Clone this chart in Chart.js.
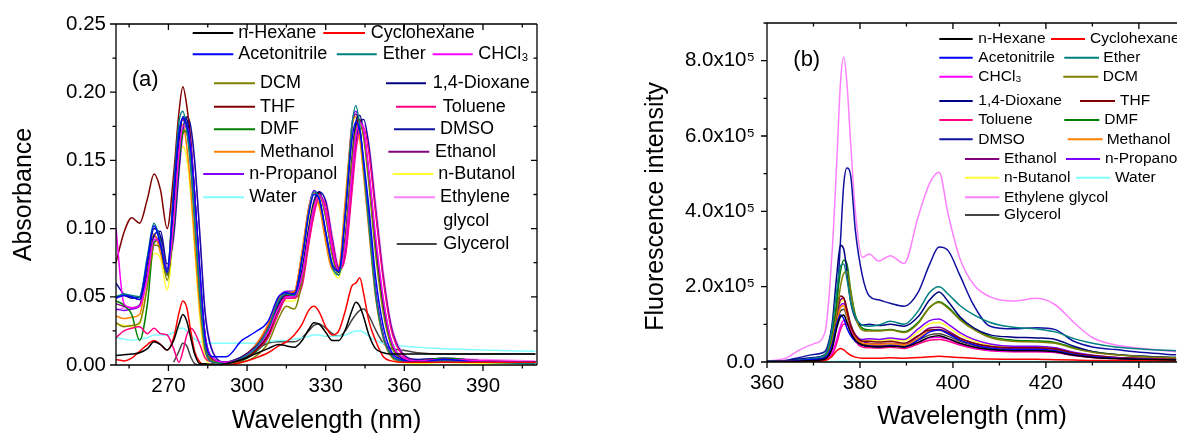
<!DOCTYPE html>
<html>
<head>
<meta charset="utf-8">
<script src="https://cdn.jsdelivr.net/npm/chart.js@4.4.1/dist/chart.umd.min.js"></script>
<style>
  body { margin: 0; background: #fff; }
  #wrap { position: relative; width: 1177px; height: 434px; overflow: hidden; }
  canvas { position: absolute; top: 0; }
  #absChart { left: 0; }
  #fluChart { left: 560px; }
</style>
</head>
<body>
<div id="wrap">
  <canvas id="absChart" width="560" height="434"></canvas>
  <canvas id="fluChart" width="617" height="434"></canvas>
</div>
<script>
const solvents = ['n-Hexane', 'Cyclohexane', 'Acetonitrile', 'Ether', 'CHCl\u2083', 'DCM', '1,4-Dioxane', 'THF',
  'Toluene', 'DMF', 'DMSO', 'Methanol', 'Ethanol', 'n-Propanol', 'n-Butanol', 'Water', 'Ethylene glycol', 'Glycerol'];
const lineColors = ['#000000', '#ff0000', '#0000ff', '#008080', '#ff00ff', '#808000', '#000080', '#800000',
  '#ff0080', '#008000', '#1010a0', '#ff8000', '#800080', '#8000ff', '#ffff33', '#80ffff', '#ff80ff', '#444444'];

// (a) absorbance, wavelength in nm
const wlAbs = [250, 253, 256, 259, 262, 264.5, 267, 269.5, 272, 274, 275.5, 277, 278.5, 280, 282,
  284, 287, 292, 298, 303, 308, 312, 315, 318, 321, 323.5, 325.5, 327.5, 330, 332.5,
  335, 337.5, 340, 341.5, 343, 344.5, 346.5, 349, 352, 355, 359, 365, 375, 390, 410];
const absXTicks = [270, 300, 330, 360, 390];
const absYTicks = [0, 0.05, 0.10, 0.15, 0.20, 0.25];
const absYTickLabels = ['0.00', '0.05', '0.10', '0.15', '0.20', '0.25'];

const absNHexane = [0.007, 0.0075, 0.008, 0.009, 0.012, 0.017, 0.015, 0.011, 0.018, 0.030,
  0.037, 0.032, 0.020, 0.008, 0.001, 0.001, 0.000, 0.001, 0.004, 0.008,
  0.012, 0.015, 0.014, 0.013, 0.018, 0.026, 0.031, 0.030, 0.024, 0.018,
  0.018, 0.026, 0.040, 0.046, 0.043, 0.035, 0.022, 0.012, 0.009, 0.008,
  0.008, 0.008, 0.008, 0.008, 0.008];
const absCyclohexane = [0.004, 0.003, 0.005, 0.010, 0.015, 0.018, 0.015, 0.011, 0.020, 0.038,
  0.047, 0.042, 0.025, 0.010, 0.002, 0.000, 0.000, 0.000, 0.002, 0.005,
  0.009, 0.014, 0.017, 0.022, 0.030, 0.040, 0.043, 0.039, 0.028, 0.022,
  0.025, 0.040, 0.058, 0.060, 0.064, 0.052, 0.032, 0.018, 0.006, 0.003,
  0.002, 0.002, 0.002, 0.002, 0.002];
const absAcetonitrile = [0.049, 0.051, 0.050, 0.048, 0.077, 0.102, 0.088, 0.068, 0.125, 0.170,
  0.181, 0.176, 0.158, 0.125, 0.070, 0.020, 0.006, 0.006, 0.018, 0.024,
  0.032, 0.050, 0.053, 0.052, 0.078, 0.110, 0.125, 0.122, 0.098, 0.074,
  0.069, 0.110, 0.165, 0.178, 0.172, 0.150, 0.115, 0.065, 0.028, 0.010,
  0.004, 0.002, 0.004, 0.002, 0.002];
const absEther = [0.050, 0.052, 0.051, 0.050, 0.080, 0.104, 0.090, 0.068, 0.130, 0.178,
  0.186, 0.172, 0.145, 0.105, 0.050, 0.012, 0.002, 0.001, 0.005, 0.012,
  0.026, 0.047, 0.052, 0.051, 0.078, 0.112, 0.127, 0.122, 0.097, 0.072,
  0.066, 0.112, 0.175, 0.190, 0.175, 0.145, 0.102, 0.052, 0.020, 0.007,
  0.003, 0.002, 0.003, 0.002, 0.001];
const absChcl3 = [0.100, 0.045, 0.042, 0.043, 0.065, 0.092, 0.090, 0.068, 0.105, 0.155,
  0.175, 0.175, 0.160, 0.125, 0.068, 0.022, 0.005, 0.002, 0.005, 0.012,
  0.024, 0.042, 0.050, 0.050, 0.066, 0.095, 0.115, 0.125, 0.112, 0.085,
  0.069, 0.088, 0.140, 0.168, 0.178, 0.172, 0.142, 0.095, 0.048, 0.018,
  0.006, 0.003, 0.004, 0.003, 0.002];
const absDcm = [0.031, 0.028, 0.029, 0.031, 0.058, 0.088, 0.086, 0.062, 0.105, 0.155,
  0.172, 0.170, 0.152, 0.115, 0.060, 0.018, 0.003, 0.001, 0.002, 0.006,
  0.016, 0.034, 0.043, 0.041, 0.062, 0.095, 0.117, 0.124, 0.108, 0.080,
  0.066, 0.092, 0.148, 0.172, 0.178, 0.166, 0.132, 0.082, 0.038, 0.014,
  0.004, 0.002, 0.003, 0.002, 0.002];
const absDioxane = [0.050, 0.051, 0.049, 0.050, 0.076, 0.100, 0.094, 0.070, 0.112, 0.162,
  0.182, 0.180, 0.162, 0.125, 0.066, 0.022, 0.005, 0.002, 0.006, 0.013,
  0.025, 0.045, 0.052, 0.051, 0.070, 0.100, 0.120, 0.127, 0.110, 0.082,
  0.068, 0.094, 0.150, 0.178, 0.183, 0.170, 0.136, 0.087, 0.042, 0.016,
  0.005, 0.003, 0.004, 0.002, 0.002];
const absThf = [0.075, 0.097, 0.108, 0.104, 0.122, 0.140, 0.128, 0.100, 0.140, 0.185,
  0.204, 0.190, 0.165, 0.125, 0.065, 0.020, 0.004, 0.001, 0.004, 0.010,
  0.022, 0.043, 0.051, 0.050, 0.068, 0.098, 0.118, 0.126, 0.110, 0.083,
  0.069, 0.092, 0.148, 0.175, 0.180, 0.170, 0.138, 0.090, 0.045, 0.017,
  0.005, 0.003, 0.004, 0.002, 0.002];
const absToluene = [0.020, 0.025, 0.027, 0.028, 0.023, 0.027, 0.023, 0.022, 0.012, 0.002,
  0.010, 0.022, 0.027, 0.024, 0.015, 0.005, 0.002, 0.001, 0.004, 0.010,
  0.020, 0.038, 0.049, 0.049, 0.058, 0.088, 0.110, 0.123, 0.117, 0.090,
  0.070, 0.080, 0.128, 0.158, 0.172, 0.174, 0.155, 0.112, 0.062, 0.026,
  0.008, 0.003, 0.004, 0.003, 0.002];
const absDmf = [0.047, 0.044, 0.037, 0.018, 0.045, 0.090, 0.092, 0.066, 0.100, 0.150,
  0.170, 0.172, 0.158, 0.122, 0.065, 0.020, 0.004, 0.001, 0.003, 0.009,
  0.020, 0.040, 0.049, 0.049, 0.065, 0.095, 0.116, 0.125, 0.112, 0.085,
  0.068, 0.088, 0.142, 0.170, 0.178, 0.170, 0.140, 0.092, 0.047, 0.018,
  0.006, 0.003, 0.005, 0.003, 0.002];
const absDmso = [0.060, 0.052, 0.050, 0.048, 0.068, 0.095, 0.098, 0.074, 0.095, 0.142,
  0.172, 0.182, 0.175, 0.150, 0.095, 0.038, 0.009, 0.002, 0.005, 0.011,
  0.022, 0.040, 0.051, 0.052, 0.062, 0.092, 0.114, 0.127, 0.120, 0.092,
  0.071, 0.082, 0.132, 0.163, 0.178, 0.180, 0.160, 0.115, 0.064, 0.028,
  0.009, 0.004, 0.005, 0.003, 0.002];
const absMethanol = [0.036, 0.034, 0.035, 0.037, 0.070, 0.096, 0.082, 0.066, 0.130, 0.170,
  0.176, 0.160, 0.130, 0.090, 0.040, 0.010, 0.002, 0.001, 0.006, 0.014,
  0.030, 0.049, 0.053, 0.054, 0.084, 0.115, 0.126, 0.117, 0.090, 0.070,
  0.072, 0.122, 0.175, 0.182, 0.166, 0.138, 0.098, 0.050, 0.019, 0.006,
  0.002, 0.002, 0.003, 0.002, 0.002];
const absEthanol = [0.045, 0.043, 0.042, 0.044, 0.072, 0.095, 0.086, 0.066, 0.122, 0.168,
  0.180, 0.172, 0.148, 0.108, 0.052, 0.014, 0.003, 0.001, 0.005, 0.013,
  0.028, 0.048, 0.053, 0.053, 0.080, 0.112, 0.126, 0.121, 0.096, 0.073,
  0.070, 0.116, 0.174, 0.184, 0.172, 0.144, 0.104, 0.054, 0.021, 0.007,
  0.003, 0.002, 0.003, 0.002, 0.002];
const absPropanol = [0.041, 0.040, 0.041, 0.043, 0.070, 0.094, 0.087, 0.067, 0.118, 0.166,
  0.180, 0.174, 0.150, 0.112, 0.056, 0.015, 0.003, 0.001, 0.006, 0.014,
  0.029, 0.049, 0.054, 0.054, 0.082, 0.115, 0.128, 0.122, 0.096, 0.072,
  0.069, 0.114, 0.176, 0.186, 0.174, 0.146, 0.106, 0.056, 0.022, 0.008,
  0.003, 0.002, 0.003, 0.002, 0.002];
const absButanol = [0.030, 0.029, 0.028, 0.030, 0.058, 0.082, 0.078, 0.055, 0.100, 0.148,
  0.160, 0.152, 0.125, 0.085, 0.035, 0.005, 0.000, 0.000, 0.004, 0.011,
  0.025, 0.043, 0.047, 0.047, 0.072, 0.105, 0.119, 0.116, 0.094, 0.070,
  0.064, 0.104, 0.160, 0.172, 0.166, 0.142, 0.102, 0.052, 0.020, 0.006,
  0.002, 0.001, 0.002, 0.001, 0.001];
const absWater = [0.020, 0.019, 0.018, 0.019, 0.020, 0.022, 0.022, 0.022, 0.024, 0.027,
  0.027, 0.025, 0.022, 0.019, 0.017, 0.016, 0.016, 0.016, 0.016, 0.016,
  0.017, 0.018, 0.018, 0.019, 0.020, 0.021, 0.022, 0.022, 0.021, 0.021,
  0.021, 0.022, 0.024, 0.025, 0.025, 0.024, 0.021, 0.018, 0.016, 0.015,
  0.014, 0.013, 0.012, 0.011, 0.010];
const absGlycol = [0.040, 0.042, 0.042, 0.043, 0.062, 0.088, 0.094, 0.072, 0.092, 0.140,
  0.168, 0.176, 0.170, 0.148, 0.096, 0.040, 0.010, 0.002, 0.005, 0.012,
  0.024, 0.042, 0.052, 0.053, 0.062, 0.090, 0.110, 0.123, 0.121, 0.095,
  0.073, 0.080, 0.125, 0.155, 0.172, 0.176, 0.162, 0.120, 0.068, 0.030,
  0.010, 0.004, 0.005, 0.004, 0.003];
const absGlycerol = [null, null, null, null, null, null, null, null, 0.002, 0.010,
  0.016, 0.014, 0.006, 0.001, 0.000, 0.000, 0.001, 0.002, 0.006, 0.011,
  0.016, 0.017, 0.017, 0.017, 0.020, 0.025, 0.029, 0.030, 0.027, 0.023,
  0.021, 0.025, 0.033, 0.037, 0.040, 0.041, 0.036, 0.026, 0.016, 0.012,
  0.011, 0.009, 0.008, 0.008, 0.008];

// (b) fluorescence intensity, in units of 10^5
const wlFlu = [360, 364, 367, 370, 372.5, 374, 375, 375.8, 376.5, 377.2,
  378, 379, 380.5, 382, 384, 386.5, 389.5, 392.5, 395, 397,
  399, 401.5, 404.5, 408, 413, 418, 422, 426, 430, 435, 441, 448];
const fluXTicks = [360, 380, 400, 420, 440];
const fluYTicks = [0, 2, 4, 6, 8];
const fluYTickLabels = ['0.0', '2.0x10\u2075', '4.0x10\u2075', '6.0x10\u2075', '8.0x10\u2075'];

const fluNHexane = [0.005, 0.01, 0.02, 0.04, 0.08, 0.35, 0.9, 1.2, 1.25, 1.05,
  0.78, 0.58, 0.45, 0.42, 0.40, 0.42, 0.40, 0.52, 0.66, 0.70,
  0.62, 0.50, 0.40, 0.33, 0.30, 0.30, 0.27, 0.18, 0.12, 0.09, 0.07, 0.05];
const fluCyclohexane = [0.005, 0.01, 0.01, 0.02, 0.04, 0.15, 0.30, 0.36, 0.32, 0.25,
  0.18, 0.13, 0.10, 0.10, 0.10, 0.11, 0.10, 0.12, 0.14, 0.15,
  0.14, 0.12, 0.10, 0.08, 0.07, 0.07, 0.06, 0.05, 0.04, 0.04, 0.03, 0.03];
const fluAcetonitrile = [0.01, 0.02, 0.04, 0.07, 0.12, 0.45, 1.00, 1.25, 1.15, 0.90,
  0.70, 0.55, 0.45, 0.42, 0.40, 0.43, 0.40, 0.58, 0.80, 0.85,
  0.75, 0.58, 0.46, 0.37, 0.33, 0.33, 0.30, 0.20, 0.14, 0.10, 0.07, 0.05];
const fluEther = [0.01, 0.02, 0.05, 0.10, 0.20, 0.90, 1.90, 2.55, 2.60, 2.20,
  1.60, 1.20, 0.98, 0.95, 0.98, 1.08, 1.00, 1.35, 1.85, 2.00,
  1.80, 1.50, 1.25, 1.05, 0.92, 0.88, 0.80, 0.62, 0.50, 0.40, 0.34, 0.30];
const fluChcl3 = [0.005, 0.01, 0.02, 0.04, 0.08, 0.25, 0.60, 0.95, 1.10, 1.05,
  0.82, 0.58, 0.44, 0.42, 0.41, 0.43, 0.40, 0.52, 0.64, 0.66,
  0.60, 0.48, 0.38, 0.31, 0.28, 0.28, 0.26, 0.18, 0.13, 0.10, 0.08, 0.06];
const fluDcm = [0.01, 0.02, 0.04, 0.07, 0.13, 0.60, 1.30, 2.00, 2.35, 2.40,
  1.85, 1.20, 0.85, 0.82, 0.82, 0.85, 0.78, 1.02, 1.45, 1.58,
  1.42, 1.12, 0.86, 0.65, 0.55, 0.53, 0.50, 0.36, 0.26, 0.19, 0.14, 0.11];
const fluDioxane = [0.01, 0.03, 0.08, 0.12, 0.20, 1.00, 2.30, 3.10, 3.00, 2.40,
  1.60, 1.15, 0.98, 1.00, 0.97, 1.00, 0.95, 1.20, 1.65, 1.86,
  1.60, 1.20, 0.90, 0.72, 0.66, 0.64, 0.60, 0.42, 0.27, 0.20, 0.15, 0.12];
const fluThf = [0.01, 0.02, 0.04, 0.06, 0.10, 0.50, 1.30, 1.75, 1.70, 1.35,
  0.95, 0.70, 0.55, 0.55, 0.53, 0.55, 0.50, 0.70, 0.85, 0.86,
  0.78, 0.62, 0.50, 0.42, 0.38, 0.38, 0.35, 0.24, 0.17, 0.12, 0.10, 0.08];
const fluToluene = [0.005, 0.01, 0.02, 0.03, 0.06, 0.20, 0.50, 0.85, 1.00, 1.00,
  0.80, 0.55, 0.40, 0.38, 0.37, 0.39, 0.36, 0.48, 0.58, 0.60,
  0.55, 0.45, 0.36, 0.30, 0.27, 0.27, 0.25, 0.17, 0.12, 0.09, 0.07, 0.05];
const fluDmf = [0.01, 0.02, 0.04, 0.07, 0.15, 0.70, 1.60, 2.40, 2.70, 2.60,
  1.90, 1.25, 0.90, 0.85, 0.84, 0.86, 0.80, 1.05, 1.45, 1.60,
  1.45, 1.15, 0.90, 0.68, 0.58, 0.56, 0.52, 0.38, 0.28, 0.20, 0.15, 0.12];
const fluDmso = [0.01, 0.04, 0.12, 0.20, 0.28, 0.90, 1.50, 3.20, 4.70, 5.15,
  4.95, 3.50, 2.30, 1.75, 1.65, 1.56, 1.48, 1.85, 2.60, 3.05,
  2.95, 2.30, 1.50, 0.95, 0.88, 0.91, 0.86, 0.55, 0.40, 0.33, 0.25, 0.19];
const fluMethanol = [0.01, 0.02, 0.03, 0.05, 0.09, 0.40, 1.05, 1.45, 1.50, 1.25,
  0.90, 0.65, 0.50, 0.48, 0.47, 0.49, 0.45, 0.62, 0.82, 0.84,
  0.75, 0.58, 0.46, 0.37, 0.33, 0.33, 0.30, 0.20, 0.13, 0.09, 0.07, 0.05];
const fluEthanol = [0.01, 0.02, 0.03, 0.05, 0.10, 0.45, 1.20, 1.65, 1.70, 1.40,
  1.00, 0.72, 0.55, 0.50, 0.48, 0.50, 0.46, 0.68, 0.90, 0.92,
  0.82, 0.64, 0.50, 0.40, 0.36, 0.36, 0.33, 0.22, 0.15, 0.10, 0.08, 0.06];
const fluPropanol = [0.01, 0.02, 0.03, 0.05, 0.09, 0.40, 1.10, 1.50, 1.55, 1.30,
  0.95, 0.72, 0.60, 0.62, 0.60, 0.64, 0.60, 0.88, 1.10, 1.14,
  1.00, 0.78, 0.60, 0.48, 0.42, 0.42, 0.38, 0.26, 0.18, 0.12, 0.09, 0.07];
const fluButanol = [0.01, 0.02, 0.03, 0.05, 0.10, 0.45, 1.15, 1.60, 1.65, 1.40,
  1.00, 0.72, 0.58, 0.58, 0.56, 0.60, 0.56, 0.80, 1.02, 1.05,
  0.92, 0.72, 0.56, 0.44, 0.40, 0.40, 0.36, 0.24, 0.16, 0.11, 0.08, 0.06];
const fluWater = [0.005, 0.005, 0.005, 0.01, 0.01, 0.01, 0.015, 0.02, 0.02, 0.02,
  0.015, 0.01, 0.01, 0.01, 0.01, 0.01, 0.01, 0.01, 0.01, 0.01,
  0.01, 0.01, 0.01, 0.01, 0.01, 0.01, 0.01, 0.01, 0.01, 0.01, 0.01, 0.01];
const fluGlycol = [0.02, 0.10, 0.32, 0.48, 0.80, 2.90, 5.30, 7.40, 8.10, 7.40,
  5.80, 4.00, 2.78, 2.87, 2.68, 2.82, 2.62, 3.85, 4.75, 5.04,
  3.90, 2.75, 2.05, 1.73, 1.62, 1.69, 1.52, 1.05, 0.65, 0.45, 0.36, 0.27];
const fluGlycerol = [0.01, 0.02, 0.03, 0.05, 0.09, 0.40, 1.00, 1.35, 1.40, 1.20,
  0.90, 0.65, 0.48, 0.45, 0.43, 0.45, 0.42, 0.58, 0.72, 0.75,
  0.68, 0.55, 0.44, 0.36, 0.32, 0.32, 0.30, 0.20, 0.14, 0.10, 0.08, 0.06];

const absSeries = [absNHexane, absCyclohexane, absAcetonitrile, absEther, absChcl3, absDcm, absDioxane, absThf,
  absToluene, absDmf, absDmso, absMethanol, absEthanol, absPropanol, absButanol, absWater, absGlycol, absGlycerol];
const fluSeries = [fluNHexane, fluCyclohexane, fluAcetonitrile, fluEther, fluChcl3, fluDcm, fluDioxane, fluThf,
  fluToluene, fluDmf, fluDmso, fluMethanol, fluEthanol, fluPropanol, fluButanol, fluWater, fluGlycol, fluGlycerol];

const fontFamily = '"Liberation Sans", Arial, sans-serif';
Chart.defaults.font.family = fontFamily;
Chart.defaults.color = '#000';

// box round the plot, ticks out on left/bottom, in on top/right
const frame = {
  id: 'frame',
  afterDatasetsDraw(chart, args, o) {
    const { ctx, chartArea: a } = chart;
    const x = chart.scales.x, y = chart.scales.y;
    const isMajor = (s, v) => s.ticks.some(t => Math.abs(t.value - v) < 1e-6);
    ctx.save();
    ctx.strokeStyle = '#000';
    ctx.lineWidth = 1.3;
    ctx.beginPath();
    ctx.moveTo(a.left, a.top);
    ctx.lineTo(a.left, a.bottom);
    ctx.lineTo(a.right, a.bottom);
    ctx.moveTo(a.left, a.top);
    ctx.lineTo(a.right, a.top);
    if (o.right) {
      ctx.moveTo(a.right, a.top);
      ctx.lineTo(a.right, a.bottom);
    }
    const x0 = Math.ceil(x.min / o.xMinor);
    for (let k = x0; k * o.xMinor <= x.max + 1e-9; k++) {
      const v = k * o.xMinor;
      const px = x.getPixelForValue(v);
      const len = isMajor(x, v) ? 6 : 3.5;
      ctx.moveTo(px, a.bottom);
      ctx.lineTo(px, a.bottom + len);
      ctx.moveTo(px, a.top);
      ctx.lineTo(px, a.top + len);
    }
    for (let k = 0; k * o.yMinor <= y.max + 1e-9; k++) {
      const v = k * o.yMinor;
      const py = y.getPixelForValue(v);
      const len = isMajor(y, v) ? 6 : 3.5;
      ctx.moveTo(a.left, py);
      ctx.lineTo(a.left - len, py);
      if (o.right) {
        ctx.moveTo(a.right, py);
        ctx.lineTo(a.right - len, py);
      }
    }
    ctx.stroke();
    ctx.restore();
  }
};

// legend laid out freely inside the plot, as in the figure
const boxLegend = {
  id: 'boxLegend',
  afterDraw(chart, args, o) {
    const ctx = chart.ctx;
    ctx.save();
    ctx.font = o.size + 'px ' + fontFamily;
    ctx.textBaseline = 'middle';
    ctx.fillStyle = '#000';
    o.items.forEach(it => {
      const ds = chart.data.datasets[it.i];
      ctx.strokeStyle = ds.borderColor;
      ctx.lineWidth = 2;
      ctx.beginPath();
      ctx.moveTo(it.x1, it.y);
      ctx.lineTo(it.x2, it.y);
      ctx.stroke();
      const parts = it.wrap ? ds.label.split(' ') : [ds.label];
      parts.forEach((p, k) => ctx.fillText(p, it.tx + (k ? it.wrap : 0), it.y + k * o.lineGap));
    });
    ctx.font = o.tag.size + 'px ' + fontFamily;
    ctx.fillText(o.tag.text, o.tag.x, o.tag.y);
    ctx.restore();
  }
};

function buildDatasets(wl, series) {
  return series.map((values, i) => ({
    label: solvents[i],
    data: values.map((v, j) => ({ x: wl[j], y: v })),
    borderColor: lineColors[i],
    borderWidth: 1.5,
    pointRadius: 0,
    cubicInterpolationMode: 'monotone',
    fill: false
  }));
}

function axisOptions(cfg) {
  return {
    x: {
      type: 'linear', min: cfg.xMin, max: cfg.xMax,
      afterBuildTicks: s => { s.ticks = cfg.xTicks.map(v => ({ value: v })); },
      afterFit: s => { s.height = cfg.xHeight; },
      grid: { display: false, drawTicks: true, tickLength: 6 },
      border: { display: false },
      ticks: { font: { size: 20.5 }, padding: 3, maxRotation: 0, autoSkip: false },
      title: { display: true, text: 'Wavelength (nm)', font: { size: 25, lineHeight: 1 }, padding: { top: 0, bottom: cfg.xTitlePad } }
    },
    y: {
      type: 'linear', min: cfg.yMin, max: cfg.yMax,
      afterBuildTicks: s => { s.ticks = cfg.yTicks.map(v => ({ value: v })); },
      afterFit: s => { s.width = cfg.yWidth; },
      grid: { display: false, drawTicks: true, tickLength: 6 },
      border: { display: false },
      ticks: { font: { size: 20.5 }, padding: cfg.yTickPad, autoSkip: false, callback: (v, i) => cfg.yLabels[i] },
      title: { display: true, text: cfg.yTitle, font: { size: 25, lineHeight: 1 }, padding: { top: cfg.yTitlePad, bottom: 0 } }
    }
  };
}

new Chart(document.getElementById('absChart'), {
  type: 'line',
  data: { datasets: buildDatasets(wlAbs, absSeries) },
  options: {
    responsive: false,
    animation: false,
    devicePixelRatio: 1,
    layout: { padding: { top: 24, right: 23, bottom: 0, left: 0 } },
    scales: axisOptions({
      xMin: 250, xMax: 410.6, xTicks: absXTicks, xHeight: 69, xTitlePad: 0.5,
      yMin: 0, yMax: 0.25, yTicks: absYTicks, yLabels: absYTickLabels, yWidth: 116,
      yTickPad: 4, yTitle: 'Absorbance', yTitlePad: 11.5
    }),
    plugins: {
      legend: { display: false },
      tooltip: { enabled: false },
      frame: { xMinor: 15, yMinor: 0.025, right: true },
      boxLegend: {
        size: 18, lineGap: 23.4,
        tag: { text: '(a)', x: 131.7, y: 80, size: 22 },
        items: [
          { i: 0, x1: 192.7, x2: 233.3, tx: 238.3, y: 33 },
          { i: 1, x1: 323.3, x2: 365, tx: 370.7, y: 33 },
          { i: 2, x1: 192.7, x2: 233.3, tx: 238.3, y: 54.3 },
          { i: 3, x1: 336.7, x2: 376.7, tx: 382.7, y: 54.3 },
          { i: 4, x1: 432.7, x2: 472.7, tx: 478.3, y: 54.3 },
          { i: 5, x1: 214, x2: 255, tx: 260, y: 83.3 },
          { i: 6, x1: 386, x2: 426, tx: 432.7, y: 83.3 },
          { i: 7, x1: 214, x2: 255, tx: 260, y: 106.7 },
          { i: 8, x1: 396, x2: 436, tx: 442.7, y: 106.7 },
          { i: 9, x1: 214, x2: 255, tx: 260, y: 129.3 },
          { i: 10, x1: 394, x2: 435, tx: 440, y: 129.3 },
          { i: 11, x1: 214, x2: 255, tx: 260, y: 151.7 },
          { i: 12, x1: 388.3, x2: 429.3, tx: 435, y: 151.7 },
          { i: 13, x1: 203.3, x2: 244, tx: 249.3, y: 174 },
          { i: 14, x1: 392.7, x2: 433.3, tx: 438.3, y: 174 },
          { i: 15, x1: 203.3, x2: 244, tx: 249.3, y: 197.3 },
          { i: 16, x1: 394, x2: 435, tx: 440, y: 197.3, wrap: 3.3 },
          { i: 17, x1: 396.7, x2: 436.7, tx: 443.3, y: 244 }
        ]
      }
    }
  },
  plugins: [frame, boxLegend]
});

new Chart(document.getElementById('fluChart'), {
  type: 'line',
  data: { datasets: buildDatasets(wlFlu, fluSeries) },
  options: {
    responsive: false,
    animation: false,
    devicePixelRatio: 1,
    layout: { padding: { top: 23, right: 0, bottom: 0, left: 0 } },
    scales: axisOptions({
      xMin: 360, xMax: 448.2, xTicks: fluXTicks, xHeight: 72, xTitlePad: 4,
      yMin: 0, yMax: 9, yTicks: fluYTicks, yLabels: fluYTickLabels, yWidth: 207,
      // trailing spaces nudge the title down, as in the figure
      yTickPad: 6, yTitle: 'Fluorescence intensity    ', yTitlePad: 83.5
    }),
    plugins: {
      legend: { display: false },
      tooltip: { enabled: false },
      frame: { xMinor: 10, yMinor: 1, right: false },
      boxLegend: {
        size: 15.5, lineGap: 18,
        tag: { text: '(b)', x: 233.3, y: 60, size: 22 },
        items: [
          { i: 0, x1: 379.3, x2: 412.7, tx: 418.3, y: 39 },
          { i: 1, x1: 491, x2: 525, tx: 530, y: 39 },
          { i: 2, x1: 379.3, x2: 412.7, tx: 418.3, y: 57.7 },
          { i: 3, x1: 504.3, x2: 539, tx: 543.3, y: 57.7 },
          { i: 4, x1: 379.3, x2: 412.7, tx: 418.3, y: 76.7 },
          { i: 5, x1: 503.3, x2: 538.3, tx: 542.7, y: 76.7 },
          { i: 6, x1: 379.3, x2: 412.7, tx: 418.3, y: 101 },
          { i: 7, x1: 520, x2: 555, tx: 560, y: 101 },
          { i: 8, x1: 379.3, x2: 412.7, tx: 418.3, y: 120 },
          { i: 9, x1: 504.3, x2: 539.3, tx: 544.3, y: 120 },
          { i: 10, x1: 379.3, x2: 412.7, tx: 418.3, y: 139.3 },
          { i: 11, x1: 507.7, x2: 542.7, tx: 546.7, y: 139.3 },
          { i: 12, x1: 405, x2: 439.3, tx: 444, y: 159 },
          { i: 13, x1: 506, x2: 540, tx: 545, y: 159 },
          { i: 14, x1: 405, x2: 439.3, tx: 444, y: 177.7 },
          { i: 15, x1: 516, x2: 550, tx: 555, y: 177.7 },
          { i: 16, x1: 405, x2: 439.3, tx: 444, y: 197.3 },
          { i: 17, x1: 405, x2: 439.3, tx: 444, y: 215 }
        ]
      }
    }
  },
  plugins: [frame, boxLegend]
});
</script>
</body>
</html>
